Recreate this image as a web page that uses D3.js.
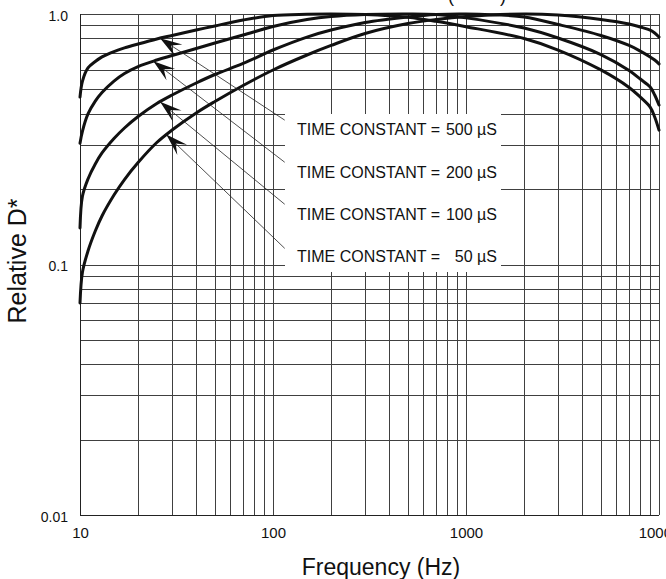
<!DOCTYPE html>
<html lang="en">
<head>
<meta charset="utf-8">
<title>Relative D* vs Frequency</title>
<script src="https://cdn.jsdelivr.net/npm/d3@7"></script>
<style>
  body { margin: 0; background: #fff; }
  svg text { font-family: "Liberation Sans", Arial, sans-serif; fill: #111; }
  .grid line { stroke: #404040; stroke-width: 1; shape-rendering: crispEdges; }
  .frame line { stroke: #222; stroke-width: 1; shape-rendering: crispEdges; }
  .curve { fill: none; stroke: #111; stroke-width: 3; stroke-linecap: round; }
  .leader { stroke: #222; stroke-width: 0.8; }
</style>
</head>
<body>
<script>
var freqs = [10, 10.3, 11, 12, 13, 15, 17, 20, 25, 30, 40, 50, 70, 100, 150, 200, 300, 500, 700,
             1000, 2000, 3000, 5000, 7000, 8000, 9000, 9500, 10000];

// relative D* for each time constant
var tc500 = [0.466, 0.540, 0.609, 0.646, 0.674, 0.708, 0.732, 0.759, 0.795, 0.821, 0.863, 0.896, 0.946, 0.986,
             0.997, 1.0, 0.995, 0.97, 0.935, 0.89, 0.798, 0.718, 0.598, 0.509, 0.466, 0.425, 0.388, 0.344];
var tc200 = [0.305, 0.341, 0.399, 0.449, 0.486, 0.540, 0.579, 0.617, 0.655, 0.683, 0.728, 0.766, 0.824, 0.892,
             0.95, 0.977, 0.995, 1.0, 0.995, 0.965, 0.879, 0.802, 0.689, 0.595, 0.55, 0.511, 0.475, 0.433];
var tc100 = [0.140, 0.1877, 0.2195, 0.2519, 0.2787, 0.3184, 0.3507, 0.3898, 0.4392, 0.4749, 0.5304, 0.5734, 0.6345, 0.7183,
             0.809, 0.863, 0.925, 0.973, 0.995, 1.0, 0.973, 0.908, 0.821, 0.749, 0.711, 0.674, 0.655, 0.632];
var tc50  = [0.0702, 0.0933, 0.1132, 0.1360, 0.1562, 0.1894, 0.2184, 0.2553, 0.3069, 0.3442, 0.4026, 0.4473, 0.5184, 0.5977,
             0.686, 0.749, 0.836, 0.916, 0.951, 0.977, 1.0, 0.99, 0.951, 0.912, 0.887, 0.863, 0.840, 0.809];

var seriesNames = ["500", "200", "100", "50"];

// annotation arrows: tip on curve, end of leader line
var arrowFreq = [26, 24, 26, 28];
var arrowVal  = [0.80, 0.648, 0.446, 0.33];
var leaderFreq = 115;
var leaderVal  = [0.377, 0.256, 0.174, 0.116];

var xTicks = [10, 100, 1000, 10000];
var xTickLabels = ["10", "100", "1000", "10000"];
var yTicks = [0.01, 0.1, 1];
var yTickLabels = ["0.01", "0.1", "1.0"];

var W = 666, H = 579;
var x = d3.scaleLog().domain([10, 10000]).range([80, 659]);
var y = d3.scaleLog().domain([0.01, 1]).range([515, 14]);

var svg = d3.select("body").append("svg")
  .attr("width", W)
  .attr("height", H);

// grid lines (1..9 per decade)
var grid = svg.append("g").attr("class", "grid");
grid.selectAll("line.v")
  .data(x.ticks())
  .enter().append("line")
  .attr("class", "v")
  .attr("x1", function(d) { return Math.round(x(d)) + 0.5; })
  .attr("x2", function(d) { return Math.round(x(d)) + 0.5; })
  .attr("y1", y(1)).attr("y2", y(0.01));
grid.selectAll("line.h")
  .data(y.ticks())
  .enter().append("line")
  .attr("class", "h")
  .attr("y1", function(d) { return Math.round(y(d)) + 0.5; })
  .attr("y2", function(d) { return Math.round(y(d)) + 0.5; })
  .attr("x1", x(10)).attr("x2", x(10000));

// blank area behind the labels
svg.append("rect")
  .attr("x", 285).attr("y", 114)
  .attr("width", 216).attr("height", 158)
  .attr("fill", "#fff");

// frame
var frame = svg.append("g").attr("class", "frame");
frame.append("line").attr("x1", x(10)).attr("x2", x(10)).attr("y1", y(1)).attr("y2", y(0.01));
frame.append("line").attr("x1", x(10)).attr("x2", x(10000)).attr("y1", y(0.01)).attr("y2", y(0.01));

// tick labels via d3 axes (no lines)
var xAxis = d3.axisBottom(x)
  .tickValues(xTicks)
  .tickSize(0)
  .tickPadding(0)
  .tickFormat(function(d, i) { return xTickLabels[i]; });
var gx = svg.append("g")
  .attr("transform", "translate(0," + 527 + ")")
  .call(xAxis);
gx.select(".domain").remove();
gx.selectAll("text").attr("font-size", 15).attr("fill", "#111")
  .style("font-family", '"Liberation Sans", Arial, sans-serif');

var yAxis = d3.axisLeft(y)
  .tickValues(yTicks)
  .tickSize(0)
  .tickPadding(12)
  .tickFormat(function(d, i) { return yTickLabels[i]; });
var gy = svg.append("g")
  .attr("transform", "translate(" + x(10) + ",2)")
  .call(yAxis);
gy.select(".domain").remove();
gy.selectAll("text").attr("font-size", 14).attr("fill", "#111")
  .style("font-family", '"Liberation Sans", Arial, sans-serif');

// curves
var line = d3.line()
  .x(function(d) { return x(d[0]); })
  .y(function(d) { return y(d[1]); })
  .curve(d3.curveCatmullRom.alpha(0.5));

[tc500, tc200, tc100, tc50].forEach(function(vals) {
  svg.append("path")
    .attr("class", "curve")
    .attr("d", line(freqs.map(function(f, i) { return [f, vals[i]]; })));
});

// leader lines with arrowheads
seriesNames.forEach(function(name, i) {
  var tx = x(arrowFreq[i]), ty = y(arrowVal[i]);
  var ex = x(leaderFreq), ey = y(leaderVal[i]);
  svg.append("line").attr("class", "leader")
    .attr("x1", tx).attr("y1", ty).attr("x2", ex).attr("y2", ey);
  var dx = ex - tx, dy = ey - ty, len = Math.sqrt(dx * dx + dy * dy);
  var ux = dx / len, uy = dy / len, nx = -uy, ny = ux;
  var L = 22, w = 7, notch = 9;
  var pts = [
    [tx, ty],
    [tx + ux * L + nx * w, ty + uy * L + ny * w],
    [tx + ux * (L - notch), ty + uy * (L - notch)],
    [tx + ux * L - nx * w, ty + uy * L - ny * w]
  ];
  svg.append("path")
    .attr("d", "M" + pts.map(function(p) { return p.join(","); }).join("L") + "Z")
    .attr("fill", "#111");

  var by = [135, 178, 220, 262][i];
  svg.append("text").attr("x", 297).attr("y", by)
    .attr("font-size", 16).text("TIME CONSTANT =");
  svg.append("text").attr("x", 497).attr("y", by)
    .attr("font-size", 16).attr("text-anchor", "end").text(name + " \u00b5S");
});

// axis titles
svg.append("text")
  .attr("x", 381).attr("y", 575)
  .attr("text-anchor", "middle")
  .attr("font-size", 23)
  .text("Frequency (Hz)");

svg.append("text")
  .attr("transform", "translate(26,261) rotate(-90)")
  .attr("text-anchor", "middle")
  .attr("font-size", 25)
  .text("Relative D*");

// cut-off title fragment at the very top
svg.append("text").attr("x", 448).attr("y", 2).attr("font-size", 18).text("(");
svg.append("text").attr("x", 500).attr("y", 2).attr("font-size", 18).text(")");
</script>
</body>
</html>
